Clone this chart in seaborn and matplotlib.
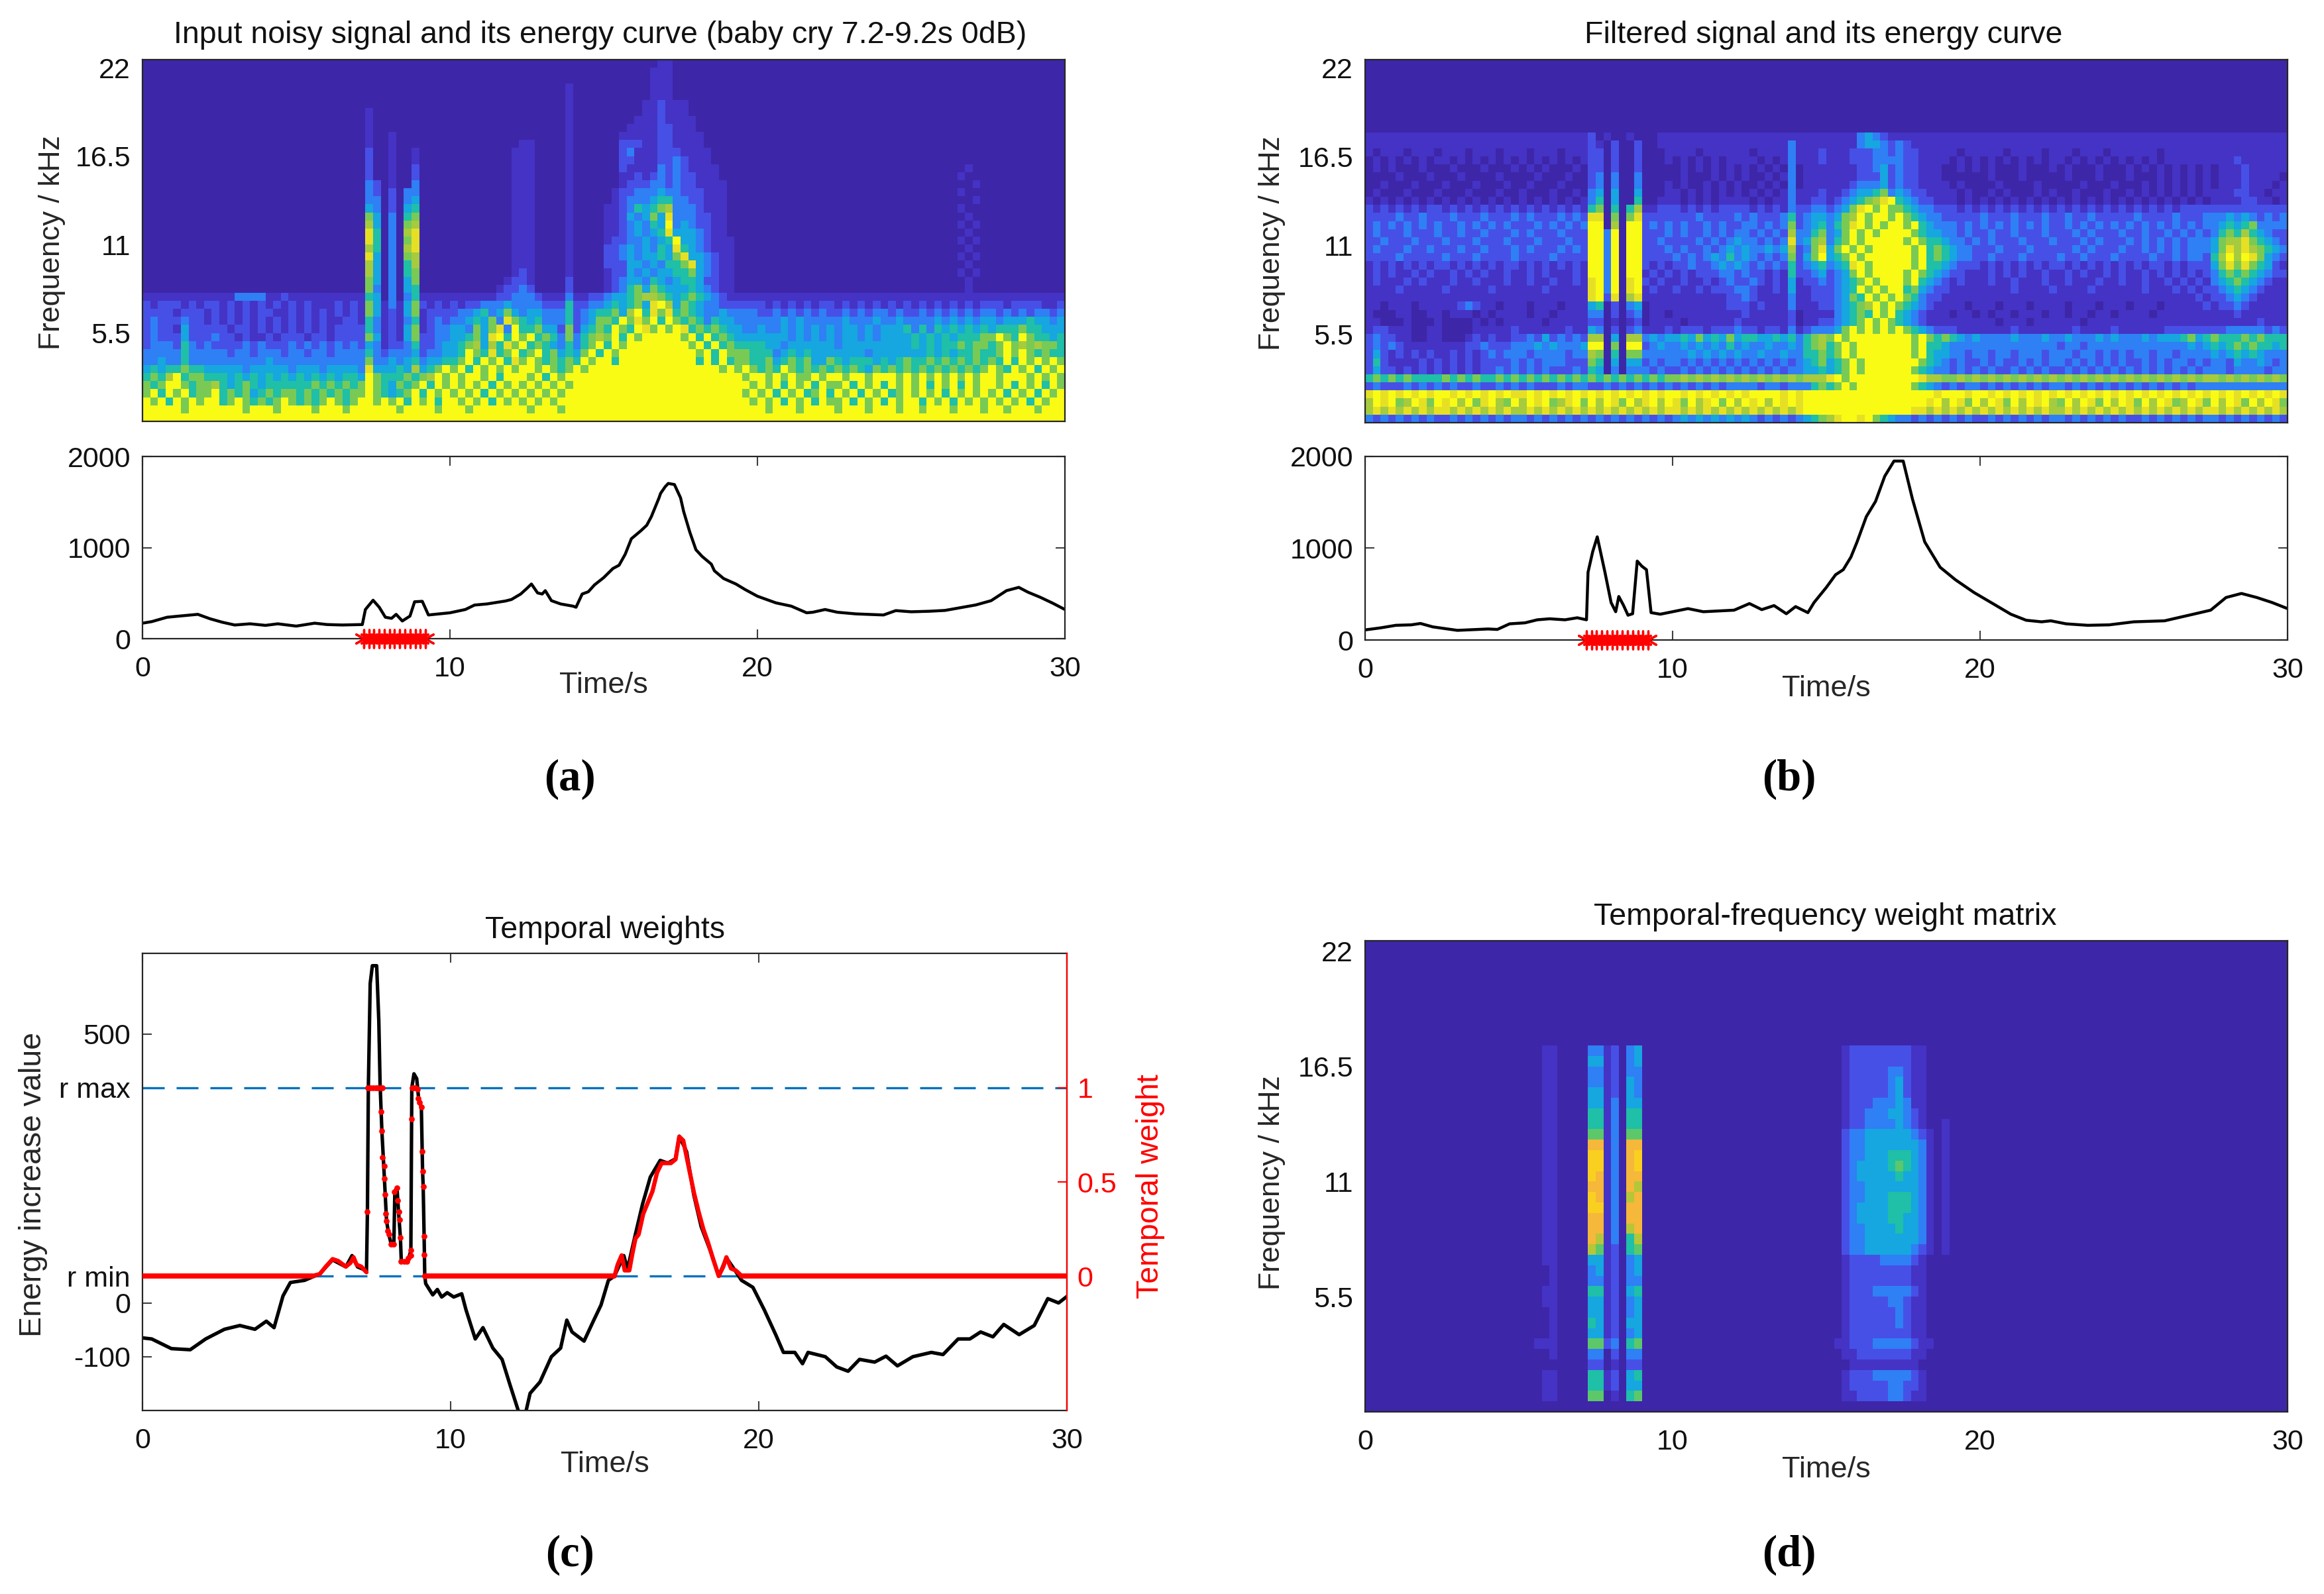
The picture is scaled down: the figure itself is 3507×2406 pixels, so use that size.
import numpy as np
import pandas as pd
import matplotlib
matplotlib.use('Agg')
import matplotlib.pyplot as plt
from matplotlib.colors import ListedColormap
import seaborn as sns

W, H = 3507, 2406

# spectrogram levels 0-9, one string per 0.5 kHz row (22.5 kHz at the top), 0.25 s per digit
spec_a = [
"0000000000 0000000000 0000000000 0000000000 0000000000 0000000000 0000000110 0000000000 0000000000 0000000000 0000000000 0000000000",
"0000000000 0000000000 0000000000 0000000000 0000000000 0000000000 0000001110 0000000000 0000000000 0000000000 0000000000 0000000000",
"0000000000 0000000000 0000000000 0000000000 0000000000 0000000000 0000001110 0000000000 0000000000 0000000000 0000000000 0000000000",
"0000000000 0000000000 0000000000 0000000000 0000000000 0000010000 0000001110 0000000000 0000000000 0000000000 0000000000 0000000000",
"0000000000 0000000000 0000000000 0000000000 0000000000 0000010000 0000001110 0000000000 0000000000 0000000000 0000000000 0000000000",
"0000000000 0000000000 0000000000 0000000000 0000000000 0000010000 0000011211 1000000000 0000000000 0000000000 0000000000 0000000000",
"0000000000 0000000000 0000000001 0000000000 0000000000 0000010000 0000011211 1000000000 0000000000 0000000000 0000000000 0000000000",
"0000000000 0000000000 0000000001 0000000000 0000000000 0000010000 0000111211 1100000000 0000000000 0000000000 0000000000 0000000000",
"0000000000 0000000000 0000000001 0000000000 0000000000 0000010000 0001111221 1100000000 0000000000 0000000000 0000000000 0000000000",
"0000000000 0000000000 0000000001 0010000000 0000000000 0000010000 0011111221 1110000000 0000000000 0000000000 0000000000 0000000000",
"0000000000 0000000000 0000000001 0010000000 0000000001 1000010000 0022211221 1110000000 0000000000 0000000000 0000000000 0000000000",
"0000000000 0000000000 0000000002 0010010000 0000000011 1000010000 0023111222 1111000000 0000000000 0000000000 0000000000 0000000000",
"0000000000 0000000000 0000000002 0010010000 0000000011 1000010000 0022111223 2111000000 0000000000 0000000000 0000000000 0000000000",
"0000000000 0000000000 0000000002 0010020000 0000000011 1000010000 0021111323 2111100000 0000000000 0000000000 0000000100 0000000000",
"0000000000 0000000000 0000000002 0010020000 0000000011 1000010000 0011212323 2211100000 0000000000 0000000000 0000001000 0000000000",
"0000000000 0000000000 0000000003 2010030000 0000000011 1000010000 0012223323 2211110000 0000000000 0000000000 0000000010 0000000000",
"0000000000 0000000000 0000000003 2020330000 0000000011 1000010000 0122333433 2221110000 0000000000 0000000000 0000001000 0000000000",
"0000000000 0000000000 0000000003 3020340000 0000000011 1000010000 0123334553 3221110000 0000000000 0000000000 0000000010 0000000000",
"0000000000 0000000000 0000000004 3020450000 0000000011 1000010000 1123545673 3321110000 0000000000 0000000000 0000001000 0000000000",
"0000000000 0000000000 0000000006 4030560000 0000000011 1000010000 1124346483 3322110000 0000000000 0000000000 0000000100 0000000000",
"0000000000 0000000000 0000000007 4030670000 0000000011 1000010000 1123435493 4322110000 0000000000 0000000000 0000001010 0000000000",
"0000000000 0000000000 0000000008 5030780000 0000000011 1000010000 1123434584 4432110000 0000000000 0000000000 0000000100 0000000000",
"0000000000 0000000000 0000000008 5030680000 0000000011 1000010000 1223343459 4432111000 0000000000 0000000000 0000001010 0000000000",
"0000000000 0000000000 0000000007 5030780000 0000000011 1000010000 2234343548 5432111000 0000000000 0000000000 0000000100 0000000000",
"0000000000 0000000000 0000000008 4030670000 0000000011 1000010000 2234344546 8443211000 0000000000 0000000000 0000001010 0000000000",
"0000000000 0000000000 0000000007 4030570000 0000000011 1000010000 2224434355 6843211000 0000000000 0000000000 0000000100 0000000000",
"0000000000 0000000000 0000000007 4030560000 0000000012 1000010000 1224343445 5643211000 0000000000 0000000000 0000001010 0000000000",
"0000000000 0000000000 0000000006 4030460000 0000000122 1000020000 1234435434 5542211000 0000000000 0000000000 0000000100 0000000000",
"0000000000 0000000000 0000000006 3030450000 0000001223 2000020000 1235646544 4543211000 0000000000 0000000000 0000000100 0000000000",
"1111111111 1133331121 1111111115 4030351111 1111112233 3211131122 3445677654 5654321111 1111111111 1111111111 1111111111 1111111111",
"2122212122 1212121212 1211121216 4131462121 2122333433 3322252233 4545648974 6543322222 2121212122 1212121212 1212121212 2212222112",
"2222122212 1212122112 1212121216 4121461222 2334534643 4433352345 5647958685 6543343333 2232323232 2323233232 2323232323 3232323323",
"2322232212 1212121212 1212112215 3121351232 3345463865 4533352346 6596869596 5653544333 3334343333 3433343343 3334343434 4344454434",
"2322142222 2122121212 1212122225 3121461233 4436468395 5644262456 5965986969 8565654433 4334343434 3443434445 3535454545 4555655444",
"2322242223 2212112122 2122122226 4121462233 4456489596 9565363567 6959699999 6959565444 4444343434 3443434444 5454545556 6965965545",
"2333253232 2223232223 2323232324 3122352234 4567475869 5654353569 5969999999 9695956555 5443444444 3444444444 5454556566 5696767665",
"3333353333 3233233323 3233233335 3233342334 4596585695 6956454695 9699999999 9969596665 5534545444 4444344444 4454545565 5696965655",
"3343353333 3333334333 3333333336 3343453445 5695969586 9656565969 9599999999 9959595665 5645656446 5455545456 5565656565 6595969696",
"4545565544 4443444443 4443444438 4445474569 6959696969 9696569699 9999999999 9999969696 5659656565 6565465656 5656565656 9659695969",
"5657956655 5454545454 5454545549 6555656796 9699695999 6959699999 9999999999 9999999969 9696966969 9699699969 6969696969 9699969696",
"6569965667 5456545555 5565656569 6546569596 9696959696 9696969999 9999999999 9999999996 9695969596 6959695969 6959695969 9695969596",
"6959695669 5656456566 5656565669 6545695969 6969596969 6969699999 9999999999 9999999969 6959695695 9695969569 6969596969 6959695969",
"9695969699 5696565696 5656965699 6969596959 9696959696 9696999999 9999999999 9999999996 9695969596 6959695969 9596959696 9696959699",
"9999969999 9996999699 9969996999 9996999969 9969999999 6999699999 9999999999 9999999999 9699969999 6999699969 9699969996 9969996999",
"9999999999 9999999999 9999999999 9999999999 9999999999 9999999999 9999999999 9999999999 9999999999 9999999999 9999999999 9999999999",
]

spec_b = ["0" * 120] * 9 + [
"1111111111 1111111111 1111111112 0100100011 1111111111 1111111111 1111343211 1111111111 1111111111 1111111111 1111111111 1111111111",
"1111111111 1111111111 1111111112 1020020011 1111111111 1111131111 1111344323 2111111111 1111111111 1111111111 1111111111 1111111111",
"1011101110 1110111011 1011101112 2020020001 1110111111 0111131112 1112223323 2211111011 1110111101 1101110111 1110111111 1111111111",
"0101010101 1010101010 1010101012 2020020001 0101010111 1010131112 1112223333 2211110101 0101010101 1010101010 1010111111 1112111111",
"0101000100 0100010001 0101000102 2020020000 0101010101 0101030111 1111223423 2211100101 0100010001 0100010001 0101010101 0111211111",
"0000100010 0010000100 0010001002 3030030000 0100010101 0010130111 1111222423 2211100000 0100010000 0100010001 0001010101 0111211110",
"0010001000 1000100010 0100010002 3030030001 0100101010 0101030111 1112333423 2211110100 0010000100 0001000100 0101010101 0111211101",
"0100010001 0001000100 1000100103 4040040001 1010101010 1010131112 1123445634 3221111010 0101000101 0010001001 0101010101 1112211011",
"1010101010 1010101010 1010101013 5040050011 1010101111 0101131122 1234567895 4322111010 1010101010 1010101010 1010101010 1111221101",
"2121212122 1212121212 1212121215 6050571122 2121212222 1212132233 2346896966 5433222121 2121212121 2121212121 2121212222 2222222222",
"2222322322 2322232223 2322232328 8060682222 2223222232 3222352344 3467969969 6543322222 3222322232 2322322222 3222232223 3343432323",
"2323232323 2232323232 2232323239 9070992323 2322323223 3232362345 3568969699 6954333232 3232323232 2323232323 2323232323 3454563333",
"2322232223 2232232223 2322232229 9390992223 2322323233 2323273356 3469696999 9654433232 2322322232 2232322232 2322323232 3565754322",
"2232223222 3222322232 2232223229 9390992232 2223232343 3232383467 3569699999 6965543323 2322232223 2223232223 2323232333 4677865432",
"2322232232 2232232223 2322232329 9390992223 2322323434 3343472368 4696969999 9695654332 2232223222 2232322232 2323232333 4687876543",
"2222322222 3222322223 2222322229 9390992222 3232343534 3232362469 4569699999 9695654332 2322232222 3223222322 2232232332 5797986432",
"1212121212 2121212122 1212121219 9390992121 2232234343 2323252345 3458969999 9695543222 1212121212 2121212121 2122121222 4686865421",
"1212112121 1212121121 1212111219 9390991212 1212223323 2212152234 2346969999 6965432211 1212121121 1212112121 1212121212 3565654322",
"1211121211 1211211121 1211211218 9390892121 1211212322 3212141223 2345696999 6954321211 1211211121 1211121121 1211212121 3456543211",
"1111211111 2111112111 1112111118 9390891211 2112122233 2112141122 2345969699 5643221111 1111211112 1111211111 1211121212 2345432111",
"1111111111 1111111111 1111111118 9280781111 1111111223 2111131122 2346596969 6532211111 1111111111 1111111111 1111111121 2234321111",
"1101110111 1123211011 1011101114 5020340111 1111111222 1211131112 2345679696 5432111101 1101110111 1011101110 1110111112 1223211111",
"1000110011 0111010111 1011011113 3020230110 1111111112 1111120111 1345659695 4321110110 1011011101 1011011011 1101111111 1112111111",
"1100010001 0000101011 1110111112 2010120111 1011111121 1111120112 2345696965 4321111111 1101110111 1110111111 1111111111 1111112111",
"1221110011 0000111112 1111112114 3020231112 1222122232 2122131233 3469696969 6543222111 1111211111 1121111211 1111222222 2233333232",
"2322110011 0001212112 2324232327 7040773434 4546454645 5445453567 6969999999 9696565434 3333433343 3433343433 3434445645 6555656555",
"2323211111 1112232223 3343433349 9060992343 3434343534 3343343567 5696999999 9695543333 3333333333 2332333333 3333333434 5456565545",
"2421212121 1212123233 3233332337 6050663333 3343434343 3433433556 5696999999 9695443323 3233233323 3323323232 3323323333 4345454333",
"2521111212 1212122223 2323332226 5040442323 3232323232 3232323456 4569699999 9965432322 3232232323 3232323232 2323233232 3324334323",
"2422121212 1212122323 2323222325 4030333232 2323232323 2323233445 4569699999 9654332323 2322323232 2323232323 2323232323 3323333233",
"5656565555 6565655656 5656565656 5656565656 6767676767 6767676777 8969999999 9987766767 6767676767 6767676767 6767676767 7676767676",
"2322232323 2322322323 2322232332 2323232323 2323232333 3233233356 5696999999 9654323233 2323232323 3232323232 3232323233 3333333333",
"8989898989 9898989898 8989898989 8989898989 9898989898 9999898999 9999999999 9999899989 9898989898 9898989898 9898989898 9898989898",
"7989679869 8979689769 7989678969 7986978979 8697896979 8979898999 9999999999 9998979869 7986979897 6979869798 6979867986 9798697986",
"7878787878 8787878787 7878787878 7878787878 8787878787 8787878999 9999999999 9887878787 8787878787 7878787878 7878787878 8787878787",
"3232323232 2323232323 3232323232 3232323232 3434343434 3232323456 7899896543 3232323232 2323232323 3232323232 2323232323 3232323232",
]

# weight matrix, only the 5-20 s part is non zero
spec_d_window = ["0" * 60] * 10 + [
"0001100003 3120340000 0000000000 0000000000 0012222222 2110000000",
"0001100004 4120340000 0000000000 0000000000 0012222222 2110000000",
"0001100003 3120330000 0000000000 0000000000 0012222233 2110000000",
"0001100003 3120430000 0000000000 0000000000 0012222234 2110000000",
"0001100004 4120430000 0000000000 0000000000 0012222234 2110000000",
"0001100004 4130440000 0000000000 0000000000 0012223334 3110000000",
"0001100005 5130550000 0000000000 0000000000 0012233344 3210000000",
"0001100005 5130550000 0000000000 0000000000 0012233334 3210010000",
"0001100006 6130660000 0000000000 0000000000 0023344444 4321010000",
"0001100008 8130880000 0000000000 0000000000 0023344444 4431010000",
"0001100009 9130890000 0000000000 0000000000 0023344455 5431010000",
"0001100009 9130890000 0000000000 0000000000 0023444456 5431010000",
"0001100009 8130880000 0000000000 0000000000 0023444445 4431010000",
"0001100008 8130870000 0000000000 0000000000 0023344444 4431010000",
"0001100009 8130780000 0000000000 0000000000 0023344455 5431010000",
"0001100009 9130880000 0000000000 0000000000 0023444455 5431010000",
"0001100008 8130880000 0000000000 0000000000 0023444455 4431010000",
"0001100008 8130780000 0000000000 0000000000 0023344445 4431010000",
"0001100008 7130570000 0000000000 0000000000 0023344444 4431010000",
"0001100007 6120560000 0000000000 0000000000 0023344444 4321010000",
"0001100004 4120340000 0000000000 0000000000 0012222333 3210000000",
"0000100003 4120340000 0000000000 0000000000 0012222222 2110000000",
"0000100003 3120330000 0000000000 0000000000 0012222222 2110000000",
"0001100005 5120450000 0000000000 0000000000 0012223333 3210000000",
"0001100004 4120340000 0000000000 0000000000 0012222233 2110000000",
"0000100004 4120340000 0000000000 0000000000 0012222223 2110000000",
"0000100005 4120440000 0000000000 0000000000 0012222223 2110000000",
"0000100004 4120340000 0000000000 0000000000 0012222222 2110000000",
"0011100006 6230560000 0000000000 0000000000 0112223333 3211000000",
"0000100003 3020330000 0000000000 0000000000 0011222222 2110000000",
"0000000002 2010220000 0000000000 0000000000 0001111111 1100000000",
"0001100005 5120450000 0000000000 0000000000 0012223333 3210000000",
"0001100005 5120440000 0000000000 0000000000 0012222233 2210000000",
"0001100006 6010560000 0000000000 0000000000 0011222233 2110000000",
"0000000000 0000000000 0000000000 0000000000 0000000000 0000000000",
]

# energy curves
t_a = [0, .3, .8, 1.2, 1.8, 2.2, 2.6, 3, 3.5, 4, 4.4, 5, 5.6, 6, 6.5, 7.15, 7.25, 7.5, 7.7, 7.9, 8.1, 8.25,
       8.45, 8.7, 8.85, 9.1, 9.3, 9.5, 10, 10.5, 10.8, 11.2, 11.8, 12, 12.3, 12.5, 12.65, 12.85, 13, 13.1, 13.3,
       13.6, 14, 14.1, 14.3, 14.5, 14.7, 15, 15.3, 15.5, 15.7, 15.9, 16.2, 16.4, 16.55, 16.8, 16.85, 17, 17.1, 17.3, 17.5,
       17.6, 17.8, 18, 18.2, 18.5, 18.6, 18.9, 19.3, 19.6, 20, 20.6, 21.1, 21.6, 21.8, 22.2, 22.6, 23.2, 24.1, 24.5,
       25, 25.6, 26.1, 26.6, 27.1, 27.6, 28.1, 28.5, 28.8, 29.2, 29.6, 30]
e_a = [170, 187, 235, 248, 267, 218, 180, 150, 163, 146, 163, 138, 170, 155, 150, 155, 320, 422, 345, 235, 223, 267,
       194, 248, 405, 410, 260, 267, 284, 320, 369, 381, 413, 430, 490, 551, 600, 502, 490, 527, 417,
       381, 357, 345, 490, 515, 590, 670, 770, 806, 927, 1097, 1182, 1245, 1340, 1546, 1595, 1668, 1704, 1692, 1546,
       1396, 1170, 976, 903, 818, 745, 660, 600, 539, 466, 393, 357, 284, 290, 320, 290, 272, 260, 308,
       295, 301, 310, 340, 370, 417, 527, 563, 510, 454, 390, 320]

t_b = [0, .5, 1, 1.5, 1.8, 2.2, 3, 4, 4.3, 4.7, 5.2, 5.6, 6, 6.5, 6.9, 7.2, 7.25, 7.4, 7.55, 7.8, 8, 8.15, 8.25, 8.4,
       8.55, 8.7, 8.85, 9, 9.15, 9.3, 9.6, 10, 10.5, 11, 12, 12.5, 12.9, 13.3, 13.7, 14, 14.4, 14.6, 15, 15.3, 15.55, 15.8,
       16, 16.3, 16.6, 16.9, 17.2, 17.5, 17.8, 18.2, 18.7, 19.2, 19.8, 20.5, 21, 21.5, 22, 22.3, 22.8, 23.5, 24.2,
       25, 26, 27, 27.5, 28, 28.5, 29, 29.5, 30]
e_b = [110, 132, 160, 165, 180, 143, 105, 120, 115, 176, 187, 220, 231, 220, 242, 220, 738, 960, 1124, 738, 408, 308, 474, 380,
       270, 286, 860, 804, 766, 298, 281, 308, 342, 308, 325, 397, 331, 375, 286, 364, 298, 408, 573, 711, 766, 904,
       1069, 1344, 1510, 1785, 1950, 1950, 1537, 1069, 793, 656, 518, 380, 281, 215, 198, 209, 176, 160, 165,
       198, 209, 286, 325, 463, 507, 463, 408, 342]

star_t = [7.2, 7.37, 7.53, 7.7, 7.87, 8.03, 8.2, 8.37, 8.53, 8.7, 8.87, 9.03, 9.2]

# temporal weights panel
t_c = [0, .3, .94, 1.55, 2.05, 2.66, 3.16, 3.65, 4.02, 4.27, 4.56, 4.8, 5.26, 5.75, 6.17, 6.6, 6.8, 6.98, 7.27,
       7.3, 7.33, 7.39, 7.46, 7.6, 7.67, 7.71, 7.77, 7.85, 7.92, 7.99, 8.07, 8.16, 8.19, 8.26, 8.31, 8.37, 8.4,
       8.6, 8.71, 8.74, 8.81, 8.9, 8.96, 9.05, 9.09, 9.11, 9.14, 9.16, 9.19, 9.31, 9.42, 9.57, 9.71, 9.89, 10.1,
       10.36, 10.5, 10.8, 11.05, 11.37, 11.67, 11.92, 12.2, 12.4, 12.58, 12.9, 13.27, 13.57, 13.77, 13.94, 14.33,
       14.63, 14.88, 15.12, 15.32, 15.62, 15.74, 15.99, 16.23, 16.48, 16.8, 17.05, 17.3, 17.42, 17.66, 17.89,
       18.13, 18.46, 18.7, 18.95, 19.2, 19.44, 19.81, 20.18, 20.55, 20.8, 21.17, 21.42, 21.6, 22.16, 22.53, 22.9,
       23.27, 23.76, 24.13, 24.5, 25, 25.6, 25.98, 26.47, 26.85, 27.2, 27.6, 27.95, 28.45, 28.94, 29.38, 29.73, 30]
e_c = [-65, -67, -85, -87, -67, -49, -42, -49, -34, -46, 13, 38, 42, 54, 80, 67, 88, 67, 60,
       169, 400, 594, 627, 627, 524, 409, 319, 233, 153, 128, 110, 114, 208, 214, 169, 122, 76,
       76, 97, 400, 426, 417, 381, 364, 245, 216, 124, 52, 36, 25, 15, 25, 11, 19, 11,
       17, -13, -67, -46, -84, -105, -151, -201, -213, -168, -147, -100, -84, -32, -54, -71,
       -34, -4, 42, 50, 88, 63, 126, 184, 234, 265, 260, 268, 310, 281, 201,
       142, 92, 50, 84, 63, 42, 29, -13, -59, -92, -92, -113, -92, -100, -119, -127,
       -105, -110, -99, -117, -100, -92, -96, -67, -67, -54, -63, -40, -59, -42, 8, 0, 12]

r_lines = [400, 50]

zero_t0 = [0, 9.16, 19.45]
zero_t1 = [5.5, 15.32, 30]

hump1_t = [5.5, 5.75, 5.95, 6.17, 6.35, 6.6, 6.75, 6.85, 6.95, 7.1, 7.27]
hump1_w = [0, .01, .05, .09, .08, .05, .07, .1, .06, .05, .02]
hump2_t = [15.32, 15.42, 15.55, 15.65, 15.8, 15.9, 16, 16.1, 16.25, 16.4, 16.55, 16.7, 16.85, 17, 17.15, 17.3, 17.42,
           17.55, 17.7, 17.9, 18.05, 18.2, 18.35, 18.5, 18.7, 18.85, 18.95, 19.1, 19.25, 19.45]
hump2_w = [0, .06, .11, .03, .03, .12, .2, .22, .33, .39, .45, .55, .6, .6, .6, .62, .74,
           .72, .6, .44, .34, .25, .18, .1, 0, .05, .1, .04, .03, 0]

dots_t = [7.3, 7.32, 7.4, 7.48, 7.56, 7.64, 7.72, 7.78, 7.75, 7.77, 7.79, 7.84, 7.86, 7.87, 7.89, 7.92, 7.96, 8.01, 8.07,
          8.14, 8.17, 8.26, 8.29, 8.32, 8.35, 8.37, 8.39, 8.49, 8.59, 8.62, 8.7, 8.71, 8.74, 8.75, 8.8, 8.85, 8.93, 8.95,
          8.98, 9.05, 9.07, 9.09, 9.11, 9.13, 9.15, 9.16]
dots_w = [.34, 1, 1, 1, 1, 1, 1, 1, .872, .772, .631, .585, .518, .434, .33, .293, .24, .223, .17,
          .17, .446, .467, .401, .343, .298, .205, .079, .076, .076, .094, .11, .139, .833, 1, 1, 1, .992, .945,
          .922, .898, .663, .556, .475, .211, .114, 0]

freq_ticks = [22, 16.5, 11, 5.5]
freq_labels = ['22', '16.5', '11', '5.5']
time_ticks = [0, 10, 20, 30]
energy_ticks = [0, 1000, 2000]
c_ticks = [-100, 0, 50, 400, 500]
c_labels = ['-100', '0', 'r min', 'r max', '500']
weight_ticks = [0, 0.5, 1]
weight_labels = ['0', '0.5', '1']

level_colors = ['#3E26A8', '#4433C4', '#4750E6', '#2F7FF5', '#16A6E0', '#1FBFA8', '#78CA55', '#A6CB3E', '#E6E024', '#F9FB15']
level_colors_d = level_colors[:6] + ['#5CC86A', '#B5C738', '#F5B83A', '#F9D020']
CMAP_SPEC = ListedColormap(level_colors)
CMAP_D = ListedColormap(level_colors_d)

sns.set_theme(style='ticks')
plt.rcParams['font.family'] = ['Liberation Sans', 'DejaVu Sans']
plt.rcParams['axes.edgecolor'] = '#262626'
plt.rcParams['axes.linewidth'] = 1.6
FS = 31

fig = plt.figure(figsize=(W / 100, H / 100), dpi=100, facecolor='white')


def make_ax(x0, x1, y0, y1):
    return fig.add_axes([x0 / W, 1 - y1 / H, (x1 - x0) / W, (y1 - y0) / H])


def to_frame(rows):
    cells = [[int(c) for c in r.replace(' ', '').ljust(120, '0')[:120]] for r in rows]
    return pd.DataFrame(cells)


def style_ticks(ax):
    ax.tick_params(direction='in', length=10, width=1.5, color='#404040', labelsize=FS,
                   top=True, right=True, pad=13, labelcolor='#111111')


def draw_spec(ax, rows, cmap):
    sns.heatmap(to_frame(rows), ax=ax, cmap=cmap, vmin=-0.5, vmax=9.5, cbar=False,
                xticklabels=False, yticklabels=False)
    for s in ax.spines.values():
        s.set_visible(True)
    ax.set_xlabel('')
    ax.set_ylabel('')
    ax.set_yticks([(22.5 - f) / 0.5 for f in freq_ticks])
    ax.set_yticklabels(freq_labels, rotation=0)
    style_ticks(ax)


def time_label(ax, y):
    ax.set_xlabel('Time/s', fontsize=32.5)
    ax.xaxis.label.set_va('center')
    ax.xaxis.set_label_coords(0.5, y)


def draw_energy(ax, t, e, label_y):
    sns.lineplot(x=t, y=e, ax=ax, color='black', linewidth=3.2, estimator=None)
    sns.scatterplot(x=star_t, y=[0] * len(star_t), ax=ax, marker=(6, 2, 0), color='red', s=380,
                    linewidth=2.4, clip_on=False, zorder=5)
    ax.set_xlim(0, 30)
    ax.set_ylim(0, 2000)
    ax.set_xticks(time_ticks)
    ax.set_yticks(energy_ticks)
    style_ticks(ax)
    ax.tick_params(axis='x', pad=19)
    time_label(ax, label_y)


def freq_label(ax, x, y):
    ax.set_ylabel('Frequency / kHz', fontsize=32)
    ax.yaxis.label.set_va('center')
    ax.yaxis.set_label_coords(x, y)


# panel a
ax_a = make_ax(215, 1607, 90, 636)
draw_spec(ax_a, spec_a, CMAP_SPEC)
ax_a.set_xticks([])
freq_label(ax_a, -0.098, 0.494)
ax_a2 = make_ax(215, 1607, 689, 964)
draw_energy(ax_a2, t_a, e_a, -0.255)

# panel b
ax_b = make_ax(2060, 3452, 90, 638)
draw_spec(ax_b, spec_b, CMAP_SPEC)
ax_b.set_xticks([])
freq_label(ax_b, -0.101, 0.494)
ax_b2 = make_ax(2060, 3452, 689, 966)
draw_energy(ax_b2, t_b, e_b, -0.264)

# panel c
ax_c = make_ax(215, 1610, 1439, 2129)
for r in r_lines:
    sns.lineplot(x=[0, 30], y=[r, r], ax=ax_c, color='#0072BD', linewidth=2.4, estimator=None, zorder=1)
    ax_c.lines[-1].set_dashes((9.9, 5.4))
sns.lineplot(x=t_c, y=e_c, ax=ax_c, color='black', linewidth=3.8, estimator=None, zorder=2)
ax_c.set_xlim(0, 30)
ax_c.set_ylim(-200, 650)
ax_c.set_xticks(time_ticks)
ax_c.set_yticks(c_ticks)
ax_c.set_yticklabels(c_labels)
style_ticks(ax_c)
ax_c.tick_params(axis='x', pad=19)
time_label(ax_c, -0.118)
ax_c.set_ylabel('Energy increase value', fontsize=33.5)
ax_c.yaxis.label.set_va('center')
ax_c.yaxis.set_label_coords(-0.118, 0.494)

ax_w = ax_c.twinx()
for t0, t1 in zip(zero_t0, zero_t1):
    sns.lineplot(x=[t0, t1], y=[0, 0], ax=ax_w, color='red', linewidth=5.6, estimator=None)
sns.lineplot(x=hump1_t, y=hump1_w, ax=ax_w, color='red', linewidth=4.6, estimator=None)
sns.lineplot(x=hump2_t, y=hump2_w, ax=ax_w, color='red', linewidth=4.6, estimator=None)
sns.scatterplot(x=dots_t, y=dots_w, ax=ax_w, color='red', s=40, linewidth=0, zorder=4)
ax_w.set_ylim((-200 - 50) / 350, (650 - 50) / 350)
ax_w.set_yticks(weight_ticks)
ax_w.set_yticklabels(weight_labels)
ax_w.tick_params(axis='y', direction='in', length=10, width=1.5, color='red', labelcolor='red',
                 labelsize=FS, pad=11)
for name, s in ax_w.spines.items():
    s.set_visible(name == 'right')
ax_w.spines['right'].set_color('red')
ax_w.set_ylabel('Temporal weight', fontsize=33.5, color='red')
ax_w.yaxis.label.set_va('center')
ax_w.yaxis.set_label_coords(1.09, 0.49)

# panel d
ax_d = make_ax(2060, 3452, 1420, 2131)
spec_d = ["0" * 20 + r.replace(' ', '') + "0" * 40 for r in spec_d_window]
draw_spec(ax_d, spec_d, CMAP_D)
ax_d.set_xticks([t / 0.25 for t in time_ticks])
ax_d.set_xticklabels(time_ticks, rotation=0)
ax_d.tick_params(axis='x', pad=19)
time_label(ax_d, -0.123)
freq_label(ax_d, -0.101, 0.487)

# titles and panel letters
titles = ['Input noisy signal and its energy curve (baby cry 7.2-9.2s 0dB)', 'Filtered signal and its energy curve',
          'Temporal weights', 'Temporal-frequency weight matrix']
title_x = [906, 2752, 913, 2754]
title_y = [53, 53, 1404, 1384]
for txt, x, y in zip(titles, title_x, title_y):
    fig.text(x / W, 1 - y / H, txt, ha='center', va='center', fontsize=33.5, color='#111111')

letters = ['(a)', '(b)', '(c)', '(d)']
letter_x = [860, 2700, 860, 2700]
letter_y = [1176, 1176, 2347, 2347]
for txt, x, y in zip(letters, letter_x, letter_y):
    fig.text(x / W, 1 - y / H, txt, ha='center', va='center', fontsize=48, fontweight='bold',
             family='Liberation Serif', color='black')

fig.savefig('out.png', dpi=100)
